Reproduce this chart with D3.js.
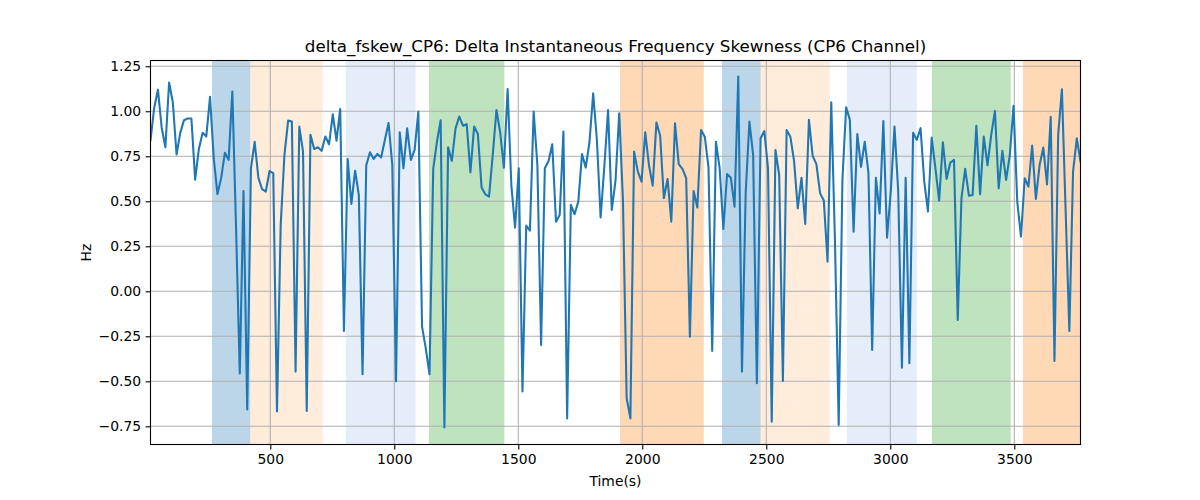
<!DOCTYPE html>
<html>
<head>
<meta charset="utf-8">
<script src="https://cdn.jsdelivr.net/npm/d3@7"></script>
<style>
  html, body { margin: 0; padding: 0; background: #ffffff; }
  svg { display: block; font-family: "DejaVu Sans", sans-serif; }
</style>
</head>
<body>
<svg id="chart" width="1200" height="500"></svg>
<script>
// ---- data ----
const titleText = "delta_fskew_CP6: Delta Instantaneous Frequency Skewness (CP6 Channel)";
const xLabel = "Time(s)";
const yLabel = "Hz";
const startTime = 17;
const stepSeconds = 15;
const skewValues = [
  0.84, 1.02, 1.12, 0.91, 0.80, 1.16, 1.05, 0.76, 0.88, 0.95,
  0.96, 0.96, 0.62, 0.79, 0.88, 0.86, 1.08, 0.74, 0.54, 0.63,
  0.77, 0.73, 1.11, 0.35, -0.456, 0.557, -0.656, 0.683, 0.83, 0.63,
  0.567, 0.554, 0.668, 0.656, -0.668, 0.37, 0.757, 0.948, 0.943, -0.446,
  0.915, 0.776, -0.665, 0.869, 0.79, 0.80, 0.78, 0.86, 0.817, 0.983,
  0.837, 1.013, -0.22, 0.735, 0.485, 0.67, 0.535, -0.46, 0.70, 0.772,
  0.735, 0.763, 0.743, 0.84, 0.935, 0.70, -0.50, 0.883, 0.683, 0.905,
  0.73, 0.785, 0.998, -0.196, -0.317, -0.461, 0.68, 0.83, 0.95, -0.757,
  0.80, 0.724, 0.905, 0.97, 0.92, 0.928, 0.661, 0.915, 0.874, 0.576,
  0.539, 0.526, 0.757, 1.007, 0.883, 0.687, 1.124, 0.59, 0.354, 0.683,
  -0.557, 0.365, 0.337, 0.998, 0.70, -0.298, 0.683, 0.724, 0.817, 0.387,
  0.424, 0.887, -0.706, 0.48, 0.428, 0.498, 0.763, 0.687, 0.828, 1.10,
  0.84, 0.41, 0.693, 1.007, 0.452, 0.613, 0.989, 0.507, -0.594, -0.706,
  0.776, 0.665, 0.609, 0.883, 0.70, 0.587, 0.937, 0.865, 0.517, 0.624,
  0.387, 0.933, 0.706, 0.68, 0.628, -0.252, 0.557, 0.465, 0.896, 0.859,
  0.687, -0.331, 0.831, 0.683, 0.346, 0.652, 0.631, 0.47, 1.193, -0.446,
  0.55, 0.943, 0.757, -0.511, 0.85, 0.89, 0.683, -0.724, 0.785, 0.646,
  -0.498, 0.896, 0.859, 0.724, 0.461, 0.631, 0.374, 0.952, 0.752, 0.706,
  0.544, 0.504, 0.165, 1.05, 0.276, -0.743, 0.619, 1.022, 0.952, 0.331,
  0.874, 0.691, 0.831, 0.656, -0.326, 0.631, 0.433, 0.946, 0.298, 0.554,
  0.915, 0.554, -0.424, 0.631, -0.40, 0.881, 0.841, 0.906, 0.609, 0.443,
  0.854, 0.683, 0.504, 0.828, 0.624, 0.715, 0.73, -0.159, 0.517, 0.68,
  0.531, 0.535, 0.92, 0.539, 0.859, 0.70, 0.869, 1.002, 0.572, 0.78,
  0.619, 0.757, 1.031, 0.498, 0.304, 0.628, 0.581, 0.809, 0.513, 0.70,
  0.798, 0.594, 0.97, -0.387, 0.869, 1.122, 0.45, -0.22, 0.665, 0.85,
  0.72
];
const spanStarts = [265, 419, 805, 1140, 1910, 2321, 2477, 2825, 3168, 3535];
const spanEnds   = [419, 711, 1086, 1444, 2248, 2477, 2756, 3107, 3486, 3800];
const spanKinds  = ["blue", "lightorange", "lightblue", "green", "orange",
                    "blue", "lightorange", "lightblue", "green", "orange"];
const xTickValues = [500, 1000, 1500, 2000, 2500, 3000, 3500];
const yTickValues = [-0.75, -0.5, -0.25, 0, 0.25, 0.5, 0.75, 1.0, 1.25];

// ---- styles ----
const spanStyle = {
  blue:        { fill: "#1f77b4", opacity: 0.3 },
  lightorange: { fill: "#ff7f0e", opacity: 0.15 },
  lightblue:   { fill: "#aec7e8", opacity: 0.32 },
  green:       { fill: "#2ca02c", opacity: 0.3 },
  orange:      { fill: "#ff7f0e", opacity: 0.3 }
};

const times = skewValues.map((v, i) => startTime + stepSeconds * i);
const points = skewValues.map((v, i) => ({ t: times[i], v: v }));

const plot = { left: 150.5, right: 1080.5, top: 60.5, bottom: 444.5 };
const svg = d3.select("#chart");

const x = d3.scaleLinear().domain([17, 3767]).range([plot.left, plot.right]);
const y = d3.scaleLinear().domain([-0.851, 1.282]).range([plot.bottom, plot.top]);

svg.append("defs").append("clipPath").attr("id", "clip")
  .append("rect")
  .attr("x", plot.left).attr("y", plot.top)
  .attr("width", plot.right - plot.left).attr("height", plot.bottom - plot.top);

const inner = svg.append("g").attr("clip-path", "url(#clip)");

// spans
const spans = spanStarts.map((s, i) => ({ s: s, e: spanEnds[i], k: spanKinds[i] }));
inner.selectAll("rect.span").data(spans).enter().append("rect")
  .attr("class", "span")
  .attr("x", d => x(d.s))
  .attr("width", d => x(d.e) - x(d.s))
  .attr("y", plot.top)
  .attr("height", plot.bottom - plot.top)
  .attr("fill", d => spanStyle[d.k].fill)
  .attr("fill-opacity", d => spanStyle[d.k].opacity);

// grid
inner.selectAll("line.gx").data(xTickValues).enter().append("line")
  .attr("x1", d => x(d)).attr("x2", d => x(d))
  .attr("y1", plot.top).attr("y2", plot.bottom)
  .attr("stroke", "#b0b0b0").attr("stroke-width", 1.1);
inner.selectAll("line.gy").data(yTickValues).enter().append("line")
  .attr("y1", d => y(d)).attr("y2", d => y(d))
  .attr("x1", plot.left).attr("x2", plot.right)
  .attr("stroke", "#b0b0b0").attr("stroke-width", 1.1);

// line
const line = d3.line().x(d => x(d.t)).y(d => y(d.v));
inner.append("path").datum(points)
  .attr("d", line)
  .attr("fill", "none")
  .attr("stroke", "#1f77b4")
  .attr("stroke-width", 2.08)
  .attr("stroke-linejoin", "round")
  .attr("stroke-linecap", "square");

// axes
const fmtY = d => d3.format(".2f")(d).replace("-", "\u2212");
const xAxis = d3.axisBottom(x).tickValues(xTickValues).tickSize(4.9).tickPadding(4.5).tickFormat(d3.format("d"));
const yAxis = d3.axisLeft(y).tickValues(yTickValues).tickSize(4.9).tickPadding(4.5).tickFormat(fmtY);

const gx = svg.append("g").attr("transform", `translate(0,${plot.bottom})`).call(xAxis);
const gy = svg.append("g").attr("transform", `translate(${plot.left},0)`).call(yAxis);
[gx, gy].forEach(g => {
  g.select(".domain").remove();
  g.selectAll(".tick line").attr("stroke", "#000").attr("stroke-width", 1.1);
  g.selectAll(".tick text").attr("fill", "#000")
    .style("font-family", "'DejaVu Sans', sans-serif").style("font-size", "13.9px");
});

// frame
svg.append("rect")
  .attr("x", plot.left).attr("y", plot.top)
  .attr("width", plot.right - plot.left).attr("height", plot.bottom - plot.top)
  .attr("fill", "none").attr("stroke", "#000").attr("stroke-width", 1.1);

// labels
svg.append("text").attr("x", (plot.left + plot.right) / 2).attr("y", 52)
  .attr("text-anchor", "middle").style("font-size", "16.7px").attr("fill", "#000")
  .text(titleText);
svg.append("text").attr("x", (plot.left + plot.right) / 2).attr("y", 486)
  .attr("text-anchor", "middle").style("font-size", "13.9px").attr("fill", "#000")
  .text(xLabel);
svg.append("text")
  .attr("transform", `translate(91,${(plot.top + plot.bottom) / 2}) rotate(-90)`)
  .attr("text-anchor", "middle").style("font-size", "13.9px").attr("fill", "#000")
  .text(yLabel);
</script>
</body>
</html>
